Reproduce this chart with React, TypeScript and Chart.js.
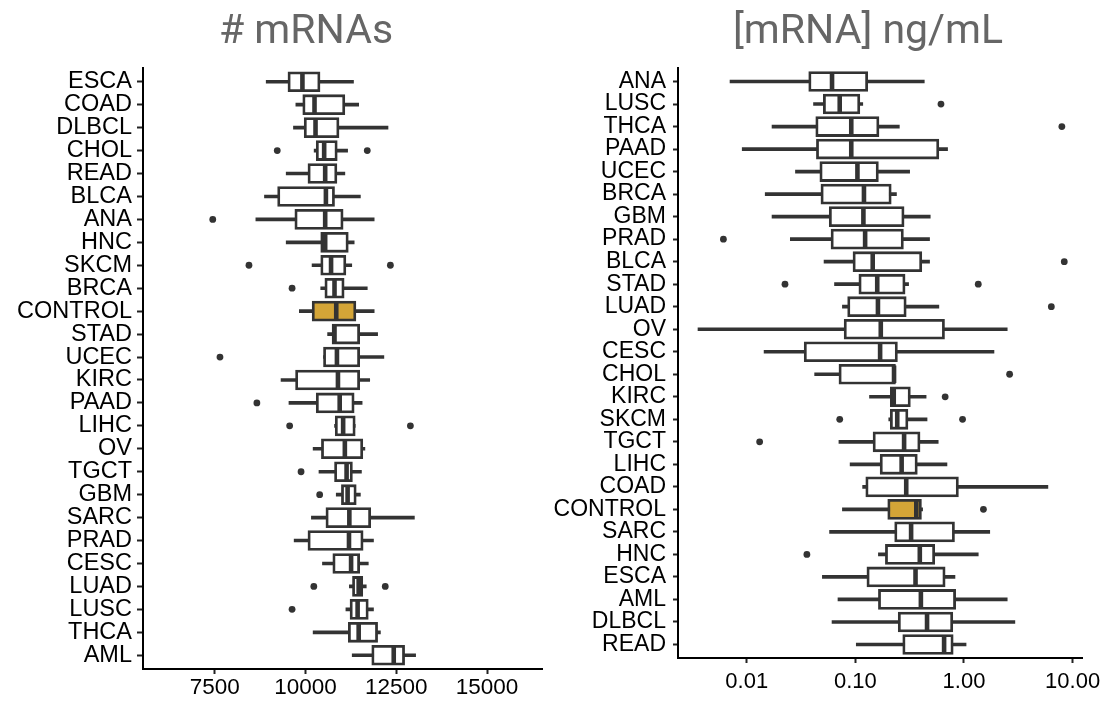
import React, { useEffect, useRef } from "react";
import { Chart, registerables } from "chart.js";

Chart.register(...registerables);

// ---------- Left panel: # mRNAs ----------
const leftTitle = "# mRNAs";
const leftCategories = ["ESCA", "COAD", "DLBCL", "CHOL", "READ", "BLCA", "ANA", "HNC", "SKCM", "BRCA", "CONTROL", "STAD", "UCEC", "KIRC", "PAAD", "LIHC", "OV", "TGCT", "GBM", "SARC", "PRAD", "CESC", "LUAD", "LUSC", "THCA", "AML"];
const leftLow = [8916, 9733, 9667, 10237, 9467, 8868, 8631, 9467, 10180, 10418, 9829, 10608, 10494, 9325, 9543, 10799, 10209, 10370, 10846, 10161, 9686, 10466, 11207, 11112, 10209, 11286];
const leftQ1 = [9515, 9923, 9962, 10294, 10066, 9230, 9705, 10418, 10418, 10532, 10181, 10731, 10494, 9724, 10294, 10817, 10437, 10798, 10988, 10561, 10066, 10751, 11293, 11226, 11178, 11824];
const leftMedian = [9914, 10247, 10275, 10513, 10541, 10561, 10541, 10541, 10703, 10798, 10846, 10798, 10865, 10893, 10941, 11036, 11083, 11131, 11159, 11207, 11197, 11255, 11464, 11435, 11464, 12430];
const leftQ3 = [10399, 11083, 10922, 10874, 10865, 10799, 11036, 11178, 11112, 11064, 11388, 11492, 11492, 11492, 11340, 11369, 11578, 11292, 11397, 11796, 11587, 11492, 11578, 11729, 11986, 12730];
const leftHigh = [11321, 11464, 12272, 11159, 11083, 11511, 11891, 11340, 11273, 11701, 11891, 11986, 12158, 11768, 11559, 11369, 11635, 11540, 11511, 12999, 11872, 11729, 11673, 11872, 12063, 13033];
const leftOutlierCats = ["CHOL", "CHOL", "ANA", "SKCM", "SKCM", "BRCA", "UCEC", "PAAD", "LIHC", "LIHC", "TGCT", "GBM", "LUAD", "LUAD", "LUSC"];
const leftOutlierValues = [9220, 11701, 7443, 8441, 12338, 9629, 7642, 8659, 9562, 12889, 9876, 10389, 10228, 12196, 9629];
const leftTicks = [7500, 10000, 12500, 15000];
const leftRange = [5521, 16532];

// ---------- Right panel: [mRNA] ng/mL ----------
const rightTitle = "[mRNA] ng/mL";
const rightCategories = ["ANA", "LUSC", "THCA", "PAAD", "UCEC", "BRCA", "GBM", "PRAD", "BLCA", "STAD", "LUAD", "OV", "CESC", "CHOL", "KIRC", "SKCM", "TGCT", "LIHC", "COAD", "CONTROL", "SARC", "HNC", "ESCA", "AML", "DLBCL", "READ"];
const rightLow = [0.00702, 0.0412, 0.0171, 0.00909, 0.0281, 0.0148, 0.0171, 0.0252, 0.0515, 0.0643, 0.076, 0.00356, 0.01445, 0.0422, 0.135, 0.203, 0.0706, 0.0895, 0.1167, 0.076, 0.0579, 0.163, 0.0497, 0.0692, 0.061, 0.102];
const rightQ1 = [0.0372, 0.0507, 0.0432, 0.0438, 0.0471, 0.0482, 0.0575, 0.0597, 0.0951, 0.1077, 0.0849, 0.0788, 0.0338, 0.0706, 0.2096, 0.2096, 0.1455, 0.169, 0.1247, 0.1986, 0.23, 0.189, 0.1277, 0.163, 0.248, 0.273];
const rightMedian = [0.061, 0.0718, 0.0917, 0.0917, 0.1045, 0.12, 0.1186, 0.123, 0.1445, 0.159, 0.1614, 0.1714, 0.169, 0.227, 0.2256, 0.243, 0.281, 0.2667, 0.294, 0.364, 0.326, 0.392, 0.358, 0.401, 0.457, 0.656];
const rightQ3 = [0.13, 0.11, 0.165, 0.587, 0.163, 0.214, 0.281, 0.277, 0.409, 0.287, 0.294, 0.662, 0.244, 0.234, 0.321, 0.305, 0.394, 0.372, 0.889, 0.406, 0.818, 0.538, 0.671, 0.838, 0.789, 0.796];
const rightHigh = [0.431, 0.117, 0.254, 0.706, 0.316, 0.239, 0.489, 0.482, 0.482, 0.309, 0.587, 2.5, 1.888, 0.234, 0.448, 0.457, 0.579, 0.697, 5.92, 0.416, 1.726, 1.353, 0.826, 2.5, 2.94, 1.045];
const rightOutlierCats = ["LUSC", "THCA", "PRAD", "BLCA", "STAD", "STAD", "LUAD", "CHOL", "KIRC", "SKCM", "SKCM", "TGCT", "CONTROL", "HNC"];
const rightOutlierValues = [0.614, 7.96, 0.0061, 8.38, 0.0225, 1.353, 6.37, 2.63, 0.671, 0.0718, 0.97, 0.01315, 1.51, 0.0358];
const rightTicks = [0.01, 0.1, 1, 10];
const rightRange = [0.00233, 12.2];

const HIGHLIGHT = "CONTROL";
const GOLD = "#D4A537";
const DARK = "#333333";
const LABEL_FONT = "'Liberation Sans', Arial, Helvetica, sans-serif";

type Panel = {
  categories: string[];
  low: number[];
  q1: number[];
  median: number[];
  q3: number[];
  high: number[];
  outlierCats: string[];
  outlierValues: number[];
  ticks: number[];
  range: number[];
  log: boolean;
  yAxisWidth: number;
  xAxisHeight: number;
  padRight: number;
  padTop: number;
  yFont: number;
  xFont: number;
  yTickLen: number;
  yPad: number;
  xPad: number;
};

function buildConfig(p: Panel): any {
  const boxData = p.categories.map((_, i) => ({ x: [p.q1[i], p.q3[i]], y: i }));
  const whiskerData = p.categories.map((_, i) => ({ x: [p.low[i], p.high[i]], y: i }));
  const medianData = p.categories.map((_, i) => ({ x: p.median[i], y: i }));
  const outlierData = p.outlierCats.map((c, i) => ({ x: p.outlierValues[i], y: p.categories.indexOf(c) }));
  const boxColors = p.categories.map((c) => (c === HIGHLIGHT ? GOLD : "#ffffff"));
  const fmt = (v: number) => (p.log ? v.toFixed(2) : String(v));

  return {
    type: "bar",
    data: {
      datasets: [
        {
          type: "scatter",
          data: outlierData,
          pointRadius: 3.4,
          pointBackgroundColor: DARK,
          pointBorderWidth: 0,
          order: 0,
        },
        {
          type: "scatter",
          data: medianData,
          pointStyle: "line",
          pointRotation: 90,
          pointRadius: 8.8,
          pointBorderWidth: 4.6,
          pointBorderColor: DARK,
          order: 1,
        },
        {
          type: "bar",
          indexAxis: "y",
          data: boxData,
          backgroundColor: boxColors,
          borderColor: DARK,
          borderWidth: 2.8,
          borderSkipped: false,
          barThickness: 20,
          grouped: false,
          order: 2,
        },
        {
          type: "bar",
          indexAxis: "y",
          data: whiskerData,
          backgroundColor: DARK,
          borderWidth: 0,
          barThickness: 3,
          grouped: false,
          order: 3,
        },
      ],
    },
    options: {
      indexAxis: "y",
      animation: false,
      responsive: false,
      devicePixelRatio: 1,
      events: [],
      layout: { padding: { top: p.padTop, right: p.padRight, left: 0, bottom: 0 } },
      plugins: { legend: { display: false }, tooltip: { enabled: false }, title: { display: false } },
      scales: {
        x: {
          type: p.log ? "logarithmic" : "linear",
          min: p.range[0],
          max: p.range[1],
          bounds: "data",
          afterBuildTicks: (axis: any) => {
            axis.ticks = p.ticks.map((v) => ({ value: v }));
          },
          afterFit: (s: any) => {
            s.height = p.xAxisHeight;
            s.paddingLeft = 0;
            s.paddingRight = 0;
          },
          ticks: {
            callback: (v: any) => fmt(Number(v)),
            autoSkip: false,
            maxRotation: 0,
            color: "#000",
            padding: p.xPad,
            font: { family: LABEL_FONT, size: p.xFont, lineHeight: 1 },
          },
          grid: { display: true, offset: false, drawOnChartArea: false, drawTicks: true, tickLength: 5, tickColor: "#222", tickWidth: 2 },
          border: { display: true, color: "#000", width: 2 },
        },
        y: {
          type: "linear",
          reverse: true,
          min: -0.6,
          max: p.categories.length - 1 + 0.6,
          bounds: "data",
          offset: false,
          afterBuildTicks: (axis: any) => {
            axis.ticks = p.categories.map((_, i) => ({ value: i }));
          },
          afterFit: (s: any) => {
            s.width = p.yAxisWidth;
            s.paddingTop = 0;
            s.paddingBottom = 0;
          },
          ticks: {
            callback: (v: any) => p.categories[Math.round(Number(v))] ?? "",
            autoSkip: false,
            color: "#000",
            padding: p.yPad,
            font: { family: LABEL_FONT, size: p.yFont, lineHeight: 1 },
          },
          grid: { display: true, offset: false, drawOnChartArea: false, drawTicks: true, tickLength: p.yTickLen, tickColor: "#222", tickWidth: 2 },
          border: { display: true, color: "#000", width: 2 },
        },
      },
    },
  };
}

const leftPanel: Panel = {
  categories: leftCategories,
  low: leftLow,
  q1: leftQ1,
  median: leftMedian,
  q3: leftQ3,
  high: leftHigh,
  outlierCats: leftOutlierCats,
  outlierValues: leftOutlierValues,
  ticks: leftTicks,
  range: leftRange,
  log: false,
  yAxisWidth: 143,
  xAxisHeight: 33,
  padRight: 1,
  padTop: 68,
  yFont: 23.5,
  xFont: 22.5,
  yTickLen: 6,
  yPad: 5,
  xPad: 3,
};

const rightPanel: Panel = {
  categories: rightCategories,
  low: rightLow,
  q1: rightQ1,
  median: rightMedian,
  q3: rightQ3,
  high: rightHigh,
  outlierCats: rightOutlierCats,
  outlierValues: rightOutlierValues,
  ticks: rightTicks,
  range: rightRange,
  log: true,
  yAxisWidth: 138,
  xAxisHeight: 44,
  padRight: 24,
  padTop: 68,
  yFont: 23,
  xFont: 22,
  yTickLen: 5,
  yPad: 7,
  xPad: 8,
};

function PanelChart({ panel, width, height }: { panel: Panel; width: number; height: number }) {
  const ref = useRef<HTMLCanvasElement | null>(null);
  useEffect(() => {
    if (!ref.current) return;
    const chart = new Chart(ref.current, buildConfig(panel));
    return () => chart.destroy();
  }, [panel]);
  return <canvas ref={ref} width={width} height={height} style={{ width, height, display: "block" }} />;
}

const titleStyle: React.CSSProperties = {
  position: "absolute",
  top: 9,
  width: 400,
  textAlign: "center",
  fontFamily: "Roboto, 'Noto Sans', sans-serif",
  fontSize: 41,
  lineHeight: "40px",
  color: "#666666",
  whiteSpace: "nowrap",
};

export default function App() {
  return (
    <div style={{ position: "absolute", left: 0, top: 0, width: 1106, height: 702, background: "#fff", overflow: "hidden" }}>
      <div style={{ position: "absolute", left: 0, top: 0 }}>
        <PanelChart panel={leftPanel} width={556} height={702} />
      </div>
      <div style={{ position: "absolute", left: 540, top: 0 }}>
        <PanelChart panel={rightPanel} width={566} height={702} />
      </div>
      <div style={{ ...titleStyle, left: 306 - 200 }}>{leftTitle}</div>
      <div style={{ ...titleStyle, left: 868 - 200 }}>{rightTitle}</div>
    </div>
  );
}
